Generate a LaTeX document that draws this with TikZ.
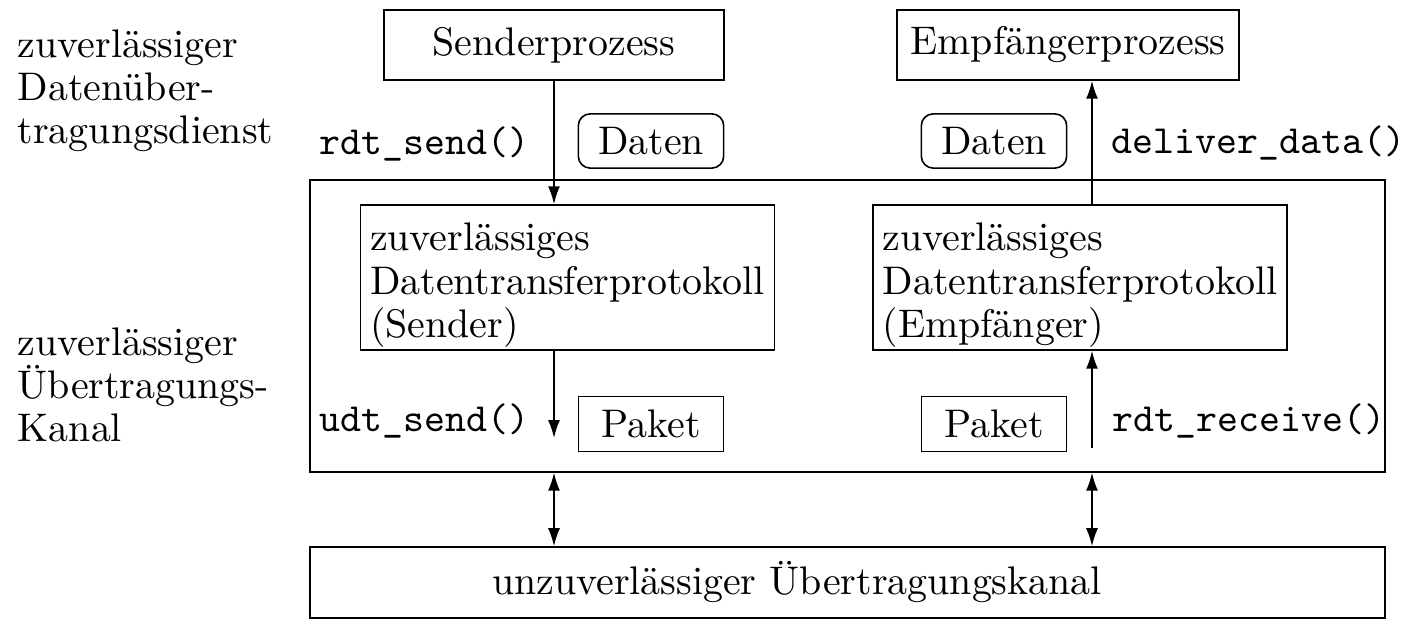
\documentclass[tikz,border=0pt]{standalone}
\usepackage{tikz}
\usetikzlibrary{arrows.meta,positioning,calc}

\newcommand{\oben}{\rule{0pt}{10.8pt}}

\tikzset{
  prozess/.style={draw,minimum width=2.99cm,minimum height=0.616cm},
  datum/.style={draw,rounded corners=3pt,minimum width=1.28cm,minimum height=0.43cm},
  paket/.style={draw,minimum width=1.28cm,minimum height=0.43cm},
  protokoll/.style={draw,align=left,inner xsep=0.085cm,inner ysep=0pt,minimum height=1.276cm},
  schicht/.style={align=left,anchor=west,inner sep=0pt},
  aufruf/.style={font=\ttfamily,inner sep=0pt},
  pfeil/.style={-{Latex[length=4.5pt,width=3pt]}},
  doppelpfeil/.style={{Latex[length=4.5pt,width=3pt]}-{Latex[length=4.5pt,width=3pt]}},
}

\begin{document}
\begin{tikzpicture}[x=0.0088cm,y=-0.0088cm,font=\fontsize{10}{10.8}\selectfont]
                \useasboundingbox (0,0) rectangle (1418,640);
                % Schichten links
                \node[schicht] (dienstlabel) at (17,91) {zuverlässiger\\Datenüber-\\tragungsdienst};
                \node[schicht] (kanallabel) at (17,385) {zuverlässiger\\Übertragungs-\\Kanal};
                % Prozesse
                \node[prozess] (sender) at (554,45) {Senderprozess};
                \node[prozess] (empf) at (1068,45) {Empfängerprozess};
                % zuverlaessiger Kanal mit Protokollen
                \node[draw,minimum width=9.46cm,minimum height=2.57cm] (dienst) at (847.5,326) {};
                \node[protokoll] (rdtS) at (567.5,277.5) {\oben zuverlässiges\\Datentransferprotokoll\\(Sender)};
                \node[protokoll] (rdtE) at (1080,277.5) {\oben zuverlässiges\\Datentransferprotokoll\\(Empfänger)};
                % unzuverlaessiger Kanal
                \node[draw,minimum width=9.46cm,minimum height=0.625cm] (kanal) at (847.5,582.5) {};
                \node (kanaltext) at (797,582) {unzuverlässiger Übertragungskanal};
                % Daten und Pakete
                \node[datum] (datenS) at (651,141) {Daten};
                \node[datum] (datenE) at (994,141) {Daten};
                \node[paket] (paketS) at (651,424) {Paket};
                \node[paket] (paketE) at (994,424) {Paket};
                % Aufrufe
                \node[aufruf,anchor=base east] (send) at (530,155) {rdt\_send()};
                \node[aufruf,anchor=base west] (deliver) at (1111,154) {deliver\_data()};
                \node[aufruf,anchor=base east] (udt) at (530,432) {udt\_send()};
                \node[aufruf,anchor=base west] (receive) at (1112,432) {rdt\_receive()};
                % Pfeile
                \coordinate (li) at (554,0);
                \coordinate (re) at (1092,0);
                \coordinate (udtende) at (554,438);
                \coordinate (rcvstart) at (1092,448);
                \draw[pfeil] (sender.south) -- (sender |- rdtS.north);
                \draw[pfeil] (re |- rdtE.north) -- (re |- empf.south);
                \draw[pfeil] (li |- rdtS.south) -- (udtende);
                \draw[pfeil] (rcvstart) -- (re |- rdtE.south);
                \draw[doppelpfeil] (li |- dienst.south) -- (li |- kanal.north);
                \draw[doppelpfeil] (re |- dienst.south) -- (re |- kanal.north);
            \end{tikzpicture}
\end{document}
